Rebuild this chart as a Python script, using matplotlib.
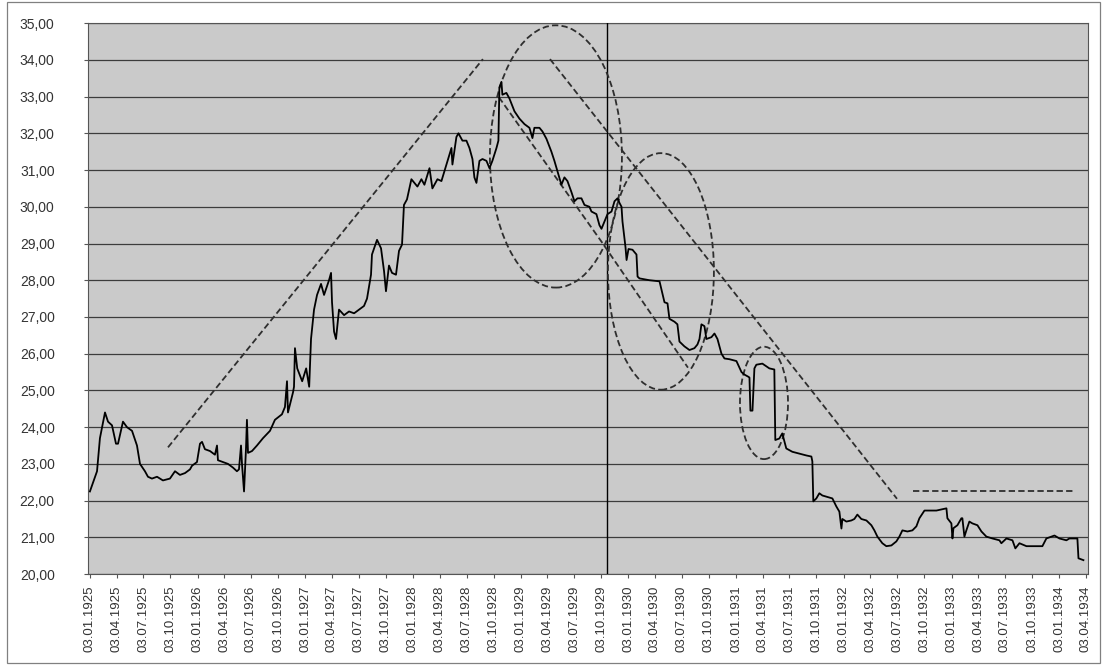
import numpy as np
import pandas as pd
import matplotlib
matplotlib.use('Agg')
import matplotlib.pyplot as plt
import matplotlib.dates as mdates
from matplotlib.patches import Ellipse, Rectangle
from matplotlib.ticker import FuncFormatter

# series: time as decimal year, price
years = [
    1925.005, 1925.071, 1925.098, 1925.145, 1925.173, 1925.210, 1925.247, 1925.266, 1925.312, 1925.349,
    1925.396, 1925.442, 1925.470, 1925.516, 1925.544, 1925.581, 1925.628, 1925.683, 1925.748, 1925.795,
    1925.841, 1925.888, 1925.934, 1925.953, 1925.999, 1926.027, 1926.046, 1926.073, 1926.120, 1926.166,
    1926.185, 1926.194, 1926.240, 1926.287, 1926.333, 1926.370, 1926.389, 1926.408, 1926.417, 1926.436,
    1926.454, 1926.463, 1926.473, 1926.510, 1926.556, 1926.612, 1926.677, 1926.723, 1926.788, 1926.816,
    1926.835, 1926.844, 1926.891, 1926.900, 1926.909, 1926.930, 1926.976, 1927.013, 1927.041, 1927.058,
    1927.086, 1927.114, 1927.151, 1927.179, 1927.225, 1927.244, 1927.253, 1927.272, 1927.290, 1927.318,
    1927.365, 1927.411, 1927.458, 1927.504, 1927.550, 1927.578, 1927.615, 1927.624, 1927.671, 1927.708,
    1927.736, 1927.754, 1927.782, 1927.810, 1927.847, 1927.875, 1927.903, 1927.921, 1927.949, 1927.990,
    1928.046, 1928.083, 1928.111, 1928.158, 1928.185, 1928.232, 1928.269, 1928.297, 1928.325, 1928.362,
    1928.371, 1928.408, 1928.427, 1928.464, 1928.501, 1928.529, 1928.557, 1928.575, 1928.594, 1928.622,
    1928.650, 1928.687, 1928.715, 1928.742, 1928.780, 1928.798, 1928.807, 1928.826, 1928.835, 1928.872,
    1928.900, 1928.947, 1928.993, 1929.040, 1929.086, 1929.114, 1929.132, 1929.179, 1929.207, 1929.244,
    1929.290, 1929.318, 1929.346, 1929.383, 1929.411, 1929.439, 1929.476, 1929.504, 1929.532, 1929.569,
    1929.597, 1929.643, 1929.662, 1929.708, 1929.736, 1929.755, 1929.783, 1929.811, 1929.848, 1929.876,
    1929.904, 1929.923, 1929.941, 1929.950, 1929.978, 1929.988, 1930.006, 1930.043, 1930.080, 1930.090,
    1930.108, 1930.201, 1930.294, 1930.312, 1930.340, 1930.368, 1930.386, 1930.433, 1930.460, 1930.479,
    1930.525, 1930.572, 1930.618, 1930.646, 1930.665, 1930.683, 1930.711, 1930.729, 1930.776, 1930.804,
    1930.832, 1930.869, 1930.897, 1930.943, 1931.008, 1931.055, 1931.083, 1931.120, 1931.129, 1931.138,
    1931.157, 1931.175, 1931.193, 1931.249, 1931.314, 1931.360, 1931.369, 1931.406, 1931.434, 1931.471,
    1931.527, 1931.592, 1931.657, 1931.704, 1931.713, 1931.722, 1931.750, 1931.778, 1931.806, 1931.852,
    1931.899, 1931.936, 1931.964, 1931.983, 1931.992, 1932.029, 1932.075, 1932.103, 1932.131, 1932.168,
    1932.215, 1932.261, 1932.289, 1932.317, 1932.363, 1932.400, 1932.447, 1932.493, 1932.521, 1932.549,
    1932.596, 1932.642, 1932.679, 1932.707, 1932.754, 1932.800, 1932.865, 1932.912, 1932.958, 1932.967,
    1933.004, 1933.014, 1933.023, 1933.060, 1933.097, 1933.106, 1933.125, 1933.143, 1933.171, 1933.199,
    1933.246, 1933.283, 1933.329, 1933.385, 1933.450, 1933.468, 1933.515, 1933.571, 1933.598, 1933.636,
    1933.701, 1933.756, 1933.849, 1933.886, 1933.961, 1934.007, 1934.072, 1934.100, 1934.174, 1934.184,
    1934.230,
]
prices = [
    22.25, 22.80, 23.70, 24.40, 24.15, 24.05, 23.55, 23.55, 24.15, 24.00,
    23.90, 23.50, 23.00, 22.80, 22.65, 22.60, 22.65, 22.55, 22.60, 22.80,
    22.70, 22.75, 22.85, 22.95, 23.05, 23.55, 23.60, 23.40, 23.35, 23.25,
    23.50, 23.10, 23.05, 23.00, 22.90, 22.80, 22.85, 23.50, 23.00, 22.25,
    23.40, 24.20, 23.30, 23.35, 23.50, 23.70, 23.90, 24.20, 24.35, 24.55,
    25.25, 24.40, 24.95, 25.10, 26.15, 25.60, 25.25, 25.60, 25.10, 26.40,
    27.20, 27.60, 27.90, 27.60, 28.00, 28.20, 27.40, 26.60, 26.40, 27.20,
    27.05, 27.15, 27.10, 27.20, 27.30, 27.50, 28.15, 28.70, 29.10, 28.87,
    28.25, 27.70, 28.40, 28.20, 28.15, 28.80, 28.97, 30.05, 30.20, 30.75,
    30.55, 30.75, 30.60, 31.05, 30.50, 30.75, 30.70, 30.97, 31.25, 31.60,
    31.15, 31.90, 32.00, 31.80, 31.80, 31.60, 31.30, 30.80, 30.65, 31.25,
    31.30, 31.25, 31.05, 31.25, 31.60, 31.80, 33.25, 33.40, 33.05, 33.10,
    32.95, 32.60, 32.40, 32.25, 32.15, 31.87, 32.15, 32.15, 32.05, 31.85,
    31.50, 31.25, 30.97, 30.60, 30.80, 30.70, 30.40, 30.15, 30.23, 30.23,
    30.05, 30.00, 29.87, 29.80, 29.50, 29.40, 29.60, 29.80, 29.87, 30.15,
    30.23, 30.10, 30.00, 29.60, 28.90, 28.55, 28.85, 28.83, 28.70, 28.10,
    28.05, 28.00, 27.97, 27.75, 27.40, 27.37, 26.95, 26.87, 26.80, 26.33,
    26.20, 26.10, 26.15, 26.25, 26.40, 26.80, 26.75, 26.40, 26.45, 26.55,
    26.40, 26.00, 25.87, 25.85, 25.80, 25.50, 25.43, 25.37, 25.35, 24.45,
    24.45, 25.60, 25.70, 25.73, 25.60, 25.57, 23.65, 23.69, 23.83, 23.42,
    23.33, 23.28, 23.23, 23.20, 23.07, 21.98, 22.06, 22.20, 22.14, 22.10,
    22.06, 21.84, 21.70, 21.24, 21.50, 21.43, 21.46, 21.50, 21.62, 21.50,
    21.46, 21.33, 21.19, 21.02, 20.84, 20.76, 20.78, 20.89, 21.02, 21.19,
    21.16, 21.19, 21.30, 21.52, 21.73, 21.73, 21.73, 21.76, 21.79, 21.52,
    21.38, 20.97, 21.25, 21.33, 21.52, 21.52, 21.02, 21.19, 21.43, 21.38,
    21.33, 21.16, 21.02, 20.97, 20.92, 20.84, 20.97, 20.92, 20.70, 20.84,
    20.76, 20.76, 20.76, 20.97, 21.05, 20.97, 20.92, 20.97, 20.97, 20.43,
    20.38,
]

# hand-drawn trend lines (decimal year, price)
up_trend_years = [1925.730, 1928.654]
up_trend_prices = [23.45, 34.02]
down_trend_years = [1929.277, 1932.499]
down_trend_prices = [34.02, 22.05]
inner_trend_years = [1928.803, 1929.760, 1930.558]
inner_trend_prices = [32.98, 29.03, 25.62]
flat_years = [1932.647, 1934.133]
flat_prices = [22.25, 22.25]

# circled areas: centre year, centre price, half width (years), half height (price)
circle_years = [1929.332, 1930.307, 1931.264]
circle_prices = [31.37, 28.24, 24.66]
circle_half_w = [0.613, 0.492, 0.223]
circle_half_h = [3.57, 3.22, 1.53]

crash_year = 1929.81


def to_dates(yrs):
    yrs = np.asarray(yrs, dtype=float)
    return (pd.Timestamp('1925-01-01') + pd.to_timedelta((yrs - 1925.0) * 365.25, unit='D')).values


plt.rcParams['font.family'] = ['Liberation Sans', 'DejaVu Sans']

fig = plt.figure(figsize=(11.08, 6.66), dpi=100)
ax = fig.add_axes([0.0794, 0.138, 0.9025, 0.8273])
ax.set_facecolor('#cacaca')

dash = (0, (3.5, 1.8))
dash_kw = dict(color='#2e2e2e', lw=1.3, linestyle=dash, zorder=4)

ax.plot(to_dates(years), prices, color='black', lw=1.3, zorder=5)
ax.axvline(to_dates([crash_year])[0], color='black', lw=1.0, zorder=4)

for xs, ys in [(up_trend_years, up_trend_prices), (down_trend_years, down_trend_prices),
               (inner_trend_years, inner_trend_prices), (flat_years, flat_prices)]:
    ax.plot(to_dates(xs), ys, **dash_kw)

for cy, cp, hw, hh in zip(circle_years, circle_prices, circle_half_w, circle_half_h):
    cx = mdates.date2num(to_dates([cy])[0])
    e = Ellipse((cx, cp), 2 * hw * 365.25, 2 * hh, fill=False, ec='#2e2e2e', lw=1.3,
                linestyle=dash, zorder=4)
    ax.add_patch(e)

ax.set_ylim(20, 35)
ax.set_yticks(np.arange(20, 36, 1))
ax.yaxis.set_major_formatter(FuncFormatter(lambda v, p: f'{v:.2f}'.replace('.', ',')))
ax.set_xlim(to_dates([1924.987])[0], to_dates([1934.272])[0])
ticks = pd.date_range('1925-01-03', '1934-04-03', freq=pd.DateOffset(months=3))
ax.set_xticks(ticks)
ax.xaxis.set_major_formatter(mdates.DateFormatter('%d.%m.%Y'))

ax.yaxis.grid(True, color='#3c3c3c', lw=0.9, zorder=1)
ax.set_axisbelow(True)
for s in ax.spines.values():
    s.set_color('#555555')
    s.set_linewidth(0.8)

ax.tick_params(axis='y', direction='out', length=3, width=0.8, color='#555555',
               labelsize=10, labelcolor='#333333', pad=21)
ax.tick_params(axis='x', direction='out', length=3, width=0.8, color='#555555',
               labelsize=9.5, labelcolor='#333333', labelrotation=90, pad=5)

# outer chart border
fig.patches.append(Rectangle((0.0063, 0.0045), 0.9865, 0.9925, transform=fig.transFigure,
                             fill=False, ec='#808080', lw=0.9))

plt.savefig('out.png', dpi=100)
plt.close(fig)
